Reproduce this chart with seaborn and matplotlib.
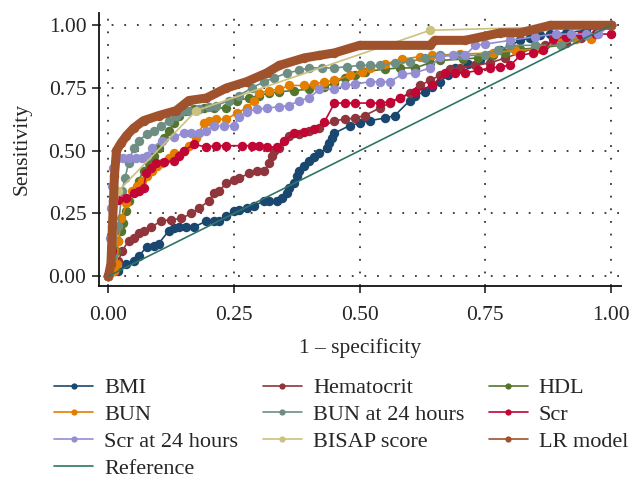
import matplotlib
matplotlib.use('Agg')
import matplotlib.pyplot as plt
from matplotlib.lines import Line2D
import seaborn as sns

sns.set_style('ticks')
plt.rcParams['font.family'] = ['Liberation Serif', 'DejaVu Serif']

# ROC points (1 - specificity, sensitivity)
bmi_pts = [(0, 0), (0.02, 0.02), (0.036, 0.05), (0.05, 0.06), (0.06, 0.08), (0.076, 0.115), (0.09, 0.12),
           (0.10, 0.13), (0.12, 0.18), (0.13, 0.19), (0.14, 0.195), (0.155, 0.195), (0.17, 0.195),
           (0.195, 0.22), (0.21, 0.22), (0.22, 0.22), (0.235, 0.24), (0.25, 0.26), (0.26, 0.265),
           (0.275, 0.27), (0.29, 0.28), (0.31, 0.30), (0.32, 0.30), (0.335, 0.30), (0.345, 0.31),
           (0.355, 0.33), (0.36, 0.35), (0.37, 0.37), (0.375, 0.40), (0.38, 0.42), (0.39, 0.44),
           (0.40, 0.46), (0.41, 0.475), (0.42, 0.49), (0.435, 0.51), (0.44, 0.53), (0.445, 0.55),
           (0.45, 0.57), (0.48, 0.60), (0.50, 0.61), (0.52, 0.62), (0.55, 0.63), (0.57, 0.64),
           (0.60, 0.70), (0.61, 0.72), (0.63, 0.735), (0.645, 0.755), (0.66, 0.775), (0.675, 0.80),
           (0.69, 0.83), (0.715, 0.845), (0.74, 0.86), (0.76, 0.88), (0.78, 0.90), (0.80, 0.92),
           (0.82, 0.94), (0.84, 0.95), (0.86, 0.96), (0.88, 0.965), (0.91, 0.97), (0.95, 0.98), (1.0, 1.0)]

hct_pts = [(0, 0), (0.013, 0.02), (0.02, 0.06), (0.027, 0.10), (0.04, 0.14), (0.05, 0.15), (0.06, 0.17),
           (0.07, 0.18), (0.085, 0.195), (0.105, 0.22), (0.125, 0.225), (0.145, 0.23), (0.165, 0.25),
           (0.18, 0.27), (0.20, 0.30), (0.21, 0.33), (0.22, 0.34), (0.235, 0.37), (0.25, 0.385),
           (0.26, 0.39), (0.28, 0.41), (0.295, 0.42), (0.31, 0.42), (0.32, 0.45), (0.325, 0.48),
           (0.33, 0.50), (0.34, 0.51), (0.36, 0.56), (0.38, 0.565), (0.40, 0.58), (0.42, 0.59),
           (0.45, 0.62), (0.47, 0.625), (0.49, 0.63), (0.51, 0.64), (0.54, 0.67), (0.56, 0.69),
           (0.58, 0.71), (0.60, 0.73), (0.62, 0.76), (0.64, 0.78), (0.66, 0.80), (0.68, 0.825),
           (0.70, 0.83), (0.73, 0.84), (0.76, 0.85), (0.79, 0.87), (0.82, 0.89), (0.85, 0.91),
           (0.87, 0.92), (0.91, 0.93), (0.94, 0.95), (0.97, 0.97), (1.0, 1.0)]

hdl_pts = [(0, 0), (0.01, 0.05), (0.015, 0.10), (0.02, 0.14), (0.025, 0.18), (0.03, 0.21), (0.035, 0.26),
           (0.04, 0.30), (0.05, 0.34), (0.06, 0.38), (0.07, 0.42), (0.08, 0.45), (0.09, 0.48), (0.10, 0.51),
           (0.11, 0.55), (0.12, 0.58), (0.13, 0.61), (0.14, 0.64), (0.155, 0.66), (0.17, 0.665),
           (0.19, 0.67), (0.21, 0.67), (0.235, 0.67), (0.255, 0.70), (0.28, 0.71), (0.30, 0.72),
           (0.32, 0.73), (0.34, 0.735), (0.37, 0.74), (0.40, 0.745), (0.43, 0.755), (0.45, 0.77),
           (0.47, 0.79), (0.49, 0.80), (0.51, 0.815), (0.55, 0.825), (0.58, 0.83), (0.61, 0.83),
           (0.64, 0.85), (0.66, 0.86), (0.705, 0.865), (0.735, 0.87), (0.765, 0.88), (0.79, 0.89),
           (0.82, 0.905), (0.86, 0.91), (0.90, 0.92), (0.95, 0.96), (1.0, 1.0)]

bun_pts = [(0, 0), (0.012, 0.02), (0.017, 0.05), (0.02, 0.14), (0.026, 0.23), (0.036, 0.29), (0.047, 0.34),
           (0.056, 0.36), (0.066, 0.38), (0.076, 0.40), (0.086, 0.42), (0.096, 0.44), (0.107, 0.45),
           (0.12, 0.47), (0.13, 0.49), (0.15, 0.50), (0.16, 0.52), (0.175, 0.55), (0.19, 0.61),
           (0.20, 0.62), (0.215, 0.625), (0.235, 0.625), (0.255, 0.65), (0.275, 0.67), (0.29, 0.70),
           (0.30, 0.73), (0.32, 0.74), (0.34, 0.745), (0.36, 0.76), (0.39, 0.76), (0.41, 0.765),
           (0.43, 0.775), (0.45, 0.78), (0.48, 0.80), (0.505, 0.815), (0.52, 0.83), (0.55, 0.845),
           (0.585, 0.865), (0.62, 0.875), (0.645, 0.88), (0.70, 0.885), (0.765, 0.89), (0.81, 0.90),
           (0.86, 0.905), (0.90, 0.945), (0.93, 0.945), (0.96, 0.945), (1.0, 1.0)]

bun24_pts = [(0, 0), (0.01, 0.08), (0.02, 0.20), (0.027, 0.34), (0.033, 0.39), (0.04, 0.45), (0.05, 0.51),
             (0.06, 0.54), (0.076, 0.565), (0.09, 0.58), (0.105, 0.60), (0.12, 0.62), (0.135, 0.64),
             (0.145, 0.655), (0.16, 0.66), (0.18, 0.665), (0.20, 0.675), (0.215, 0.68), (0.24, 0.70),
             (0.26, 0.72), (0.285, 0.75), (0.31, 0.775), (0.33, 0.79), (0.355, 0.81), (0.38, 0.82),
             (0.40, 0.83), (0.425, 0.83), (0.45, 0.83), (0.475, 0.835), (0.50, 0.84), (0.52, 0.84),
             (0.54, 0.84), (0.57, 0.85), (0.60, 0.855), (0.63, 0.87), (0.66, 0.88), (0.70, 0.88),
             (0.75, 0.88), (0.775, 0.90), (0.80, 0.92), (0.85, 0.92), (0.90, 0.92), (0.95, 0.96), (1.0, 1.0)]

scr_pts = [(0, 0), (0.008, 0.10), (0.01, 0.30), (0.02, 0.305), (0.036, 0.31), (0.05, 0.33), (0.06, 0.34),
           (0.07, 0.35), (0.075, 0.41), (0.085, 0.43), (0.095, 0.45), (0.11, 0.455), (0.13, 0.46),
           (0.14, 0.48), (0.15, 0.50), (0.17, 0.525), (0.195, 0.515), (0.215, 0.52), (0.235, 0.52),
           (0.265, 0.52), (0.285, 0.52), (0.30, 0.52), (0.315, 0.515), (0.335, 0.515), (0.35, 0.54),
           (0.37, 0.57), (0.39, 0.575), (0.41, 0.585), (0.43, 0.615), (0.45, 0.69), (0.47, 0.69),
           (0.49, 0.69), (0.52, 0.69), (0.54, 0.69), (0.56, 0.695), (0.58, 0.71), (0.61, 0.735),
           (0.645, 0.76), (0.67, 0.81), (0.69, 0.81), (0.71, 0.81), (0.735, 0.82), (0.76, 0.83),
           (0.78, 0.835), (0.80, 0.84), (0.82, 0.88), (0.845, 0.89), (0.865, 0.90), (0.885, 0.945),
           (0.91, 0.955), (0.94, 0.96), (0.97, 0.965), (1.0, 0.965), (1.0, 1.0)]

scr24_pts = [(0, 0), (0.003, 0.15), (0.005, 0.27), (0.008, 0.36), (0.01, 0.43), (0.02, 0.47), (0.03, 0.47),
             (0.04, 0.47), (0.055, 0.47), (0.066, 0.47), (0.076, 0.48), (0.086, 0.51), (0.106, 0.54),
             (0.13, 0.555), (0.15, 0.57), (0.165, 0.57), (0.18, 0.57), (0.195, 0.58), (0.21, 0.60),
             (0.23, 0.60), (0.25, 0.60), (0.26, 0.635), (0.275, 0.655), (0.295, 0.665), (0.315, 0.67),
             (0.34, 0.675), (0.36, 0.68), (0.38, 0.70), (0.40, 0.71), (0.42, 0.745), (0.45, 0.745),
             (0.47, 0.76), (0.49, 0.765), (0.52, 0.775), (0.54, 0.775), (0.56, 0.775), (0.585, 0.805),
             (0.61, 0.81), (0.64, 0.83), (0.66, 0.875), (0.685, 0.88), (0.71, 0.88), (0.73, 0.92),
             (0.75, 0.925), (0.80, 0.94), (0.85, 0.955), (0.89, 0.965), (0.92, 0.965), (0.95, 0.965),
             (0.975, 0.965), (1.0, 1.0)]

bisap_pts = [(0, 0), (0.02, 0.34), (0.175, 0.66), (0.64, 0.98), (1.0, 1.0)]

lr_pts = [(0, 0), (0.005, 0.05), (0.008, 0.20), (0.012, 0.40), (0.016, 0.50), (0.025, 0.53), (0.036, 0.56),
          (0.05, 0.59), (0.07, 0.62), (0.10, 0.64), (0.135, 0.66), (0.16, 0.70), (0.195, 0.71),
          (0.235, 0.75), (0.275, 0.775), (0.315, 0.81), (0.34, 0.84), (0.39, 0.87), (0.42, 0.88),
          (0.45, 0.89), (0.50, 0.92), (0.64, 0.92), (0.65, 0.94), (0.71, 0.94), (0.78, 0.97),
          (0.82, 0.97), (0.88, 1.0), (1.0, 1.0)]

ref_pts = [(0, 0), (1, 1)]

# (label, points, colour) in Stata s2color drawing order
series = [
    ('BMI', bmi_pts, '#1a476f'),
    ('Hematocrit', hct_pts, '#90353b'),
    ('HDL', hdl_pts, '#55752f'),
    ('BUN', bun_pts, '#e37e00'),
    ('BUN at 24 hours', bun24_pts, '#6e8e84'),
    ('Scr', scr_pts, '#c10534'),
    ('Scr at 24 hours', scr24_pts, '#938dd2'),
    ('BISAP score', bisap_pts, '#cac27e'),
    ('LR model', lr_pts, '#a0522d'),
]
ref_color = '#2f7566'

fig = plt.figure(figsize=(6.42, 4.9), dpi=100)
ax = fig.add_axes([0.154, 0.416, 0.813, 0.558])

handles = {}
for name, pts, col in series:
    xs, ys = zip(*pts)
    lw = 6.5 if name == 'LR model' else 1.2
    sns.lineplot(x=list(xs), y=list(ys), ax=ax, sort=False, estimator=None, color=col, lw=lw,
                 marker='o', markersize=6.8, markeredgewidth=0, legend=False)
    handles[name] = Line2D([], [], color=col, lw=1.2, marker='o', markersize=4.5, markeredgewidth=0)

rx, ry = zip(*ref_pts)
sns.lineplot(x=list(rx), y=list(ry), ax=ax, sort=False, estimator=None, color=ref_color, lw=1.2,
             legend=False)
handles['Reference'] = Line2D([], [], color=ref_color, lw=1.2)

ax.set_xlim(-0.019, 1.02)
ax.set_ylim(-0.04, 1.05)
ticks = [0, 0.25, 0.5, 0.75, 1.0]
tick_labels = ['0.00', '0.25', '0.50', '0.75', '1.00']
ax.set_xticks(ticks)
ax.set_yticks(ticks)
ax.set_xticklabels(tick_labels)
ax.set_yticklabels(tick_labels)
ax.tick_params(labelsize=15.5, length=5, width=1.2, color='#222222')
ax.tick_params(axis='x', pad=9)
ax.tick_params(axis='y', pad=4)
ax.grid(True, linestyle=(0, (1, 6)), color='#333333', lw=1.3)
for s in ['top', 'right']:
    ax.spines[s].set_visible(False)
for s in ['left', 'bottom']:
    ax.spines[s].set_linewidth(1.3)
    ax.spines[s].set_color('#111111')

ax.set_xlabel('1 – specificity', fontsize=15.5, labelpad=10)
ax.set_ylabel('Sensitivity', fontsize=15.5, labelpad=12)

order = ['BMI', 'BUN', 'Scr at 24 hours', 'Reference',
         'Hematocrit', 'BUN at 24 hours', 'BISAP score',
         'HDL', 'Scr', 'LR model']
fig.legend([handles[k] for k in order], order, ncol=3, frameon=False, fontsize=16,
           loc='upper left', bbox_to_anchor=(0.071, 0.247), handlelength=1.75,
           handletextpad=0.5, columnspacing=1.1, labelspacing=0.28, borderaxespad=0,
           borderpad=0.4)

fig.savefig('out.png', dpi=100)
